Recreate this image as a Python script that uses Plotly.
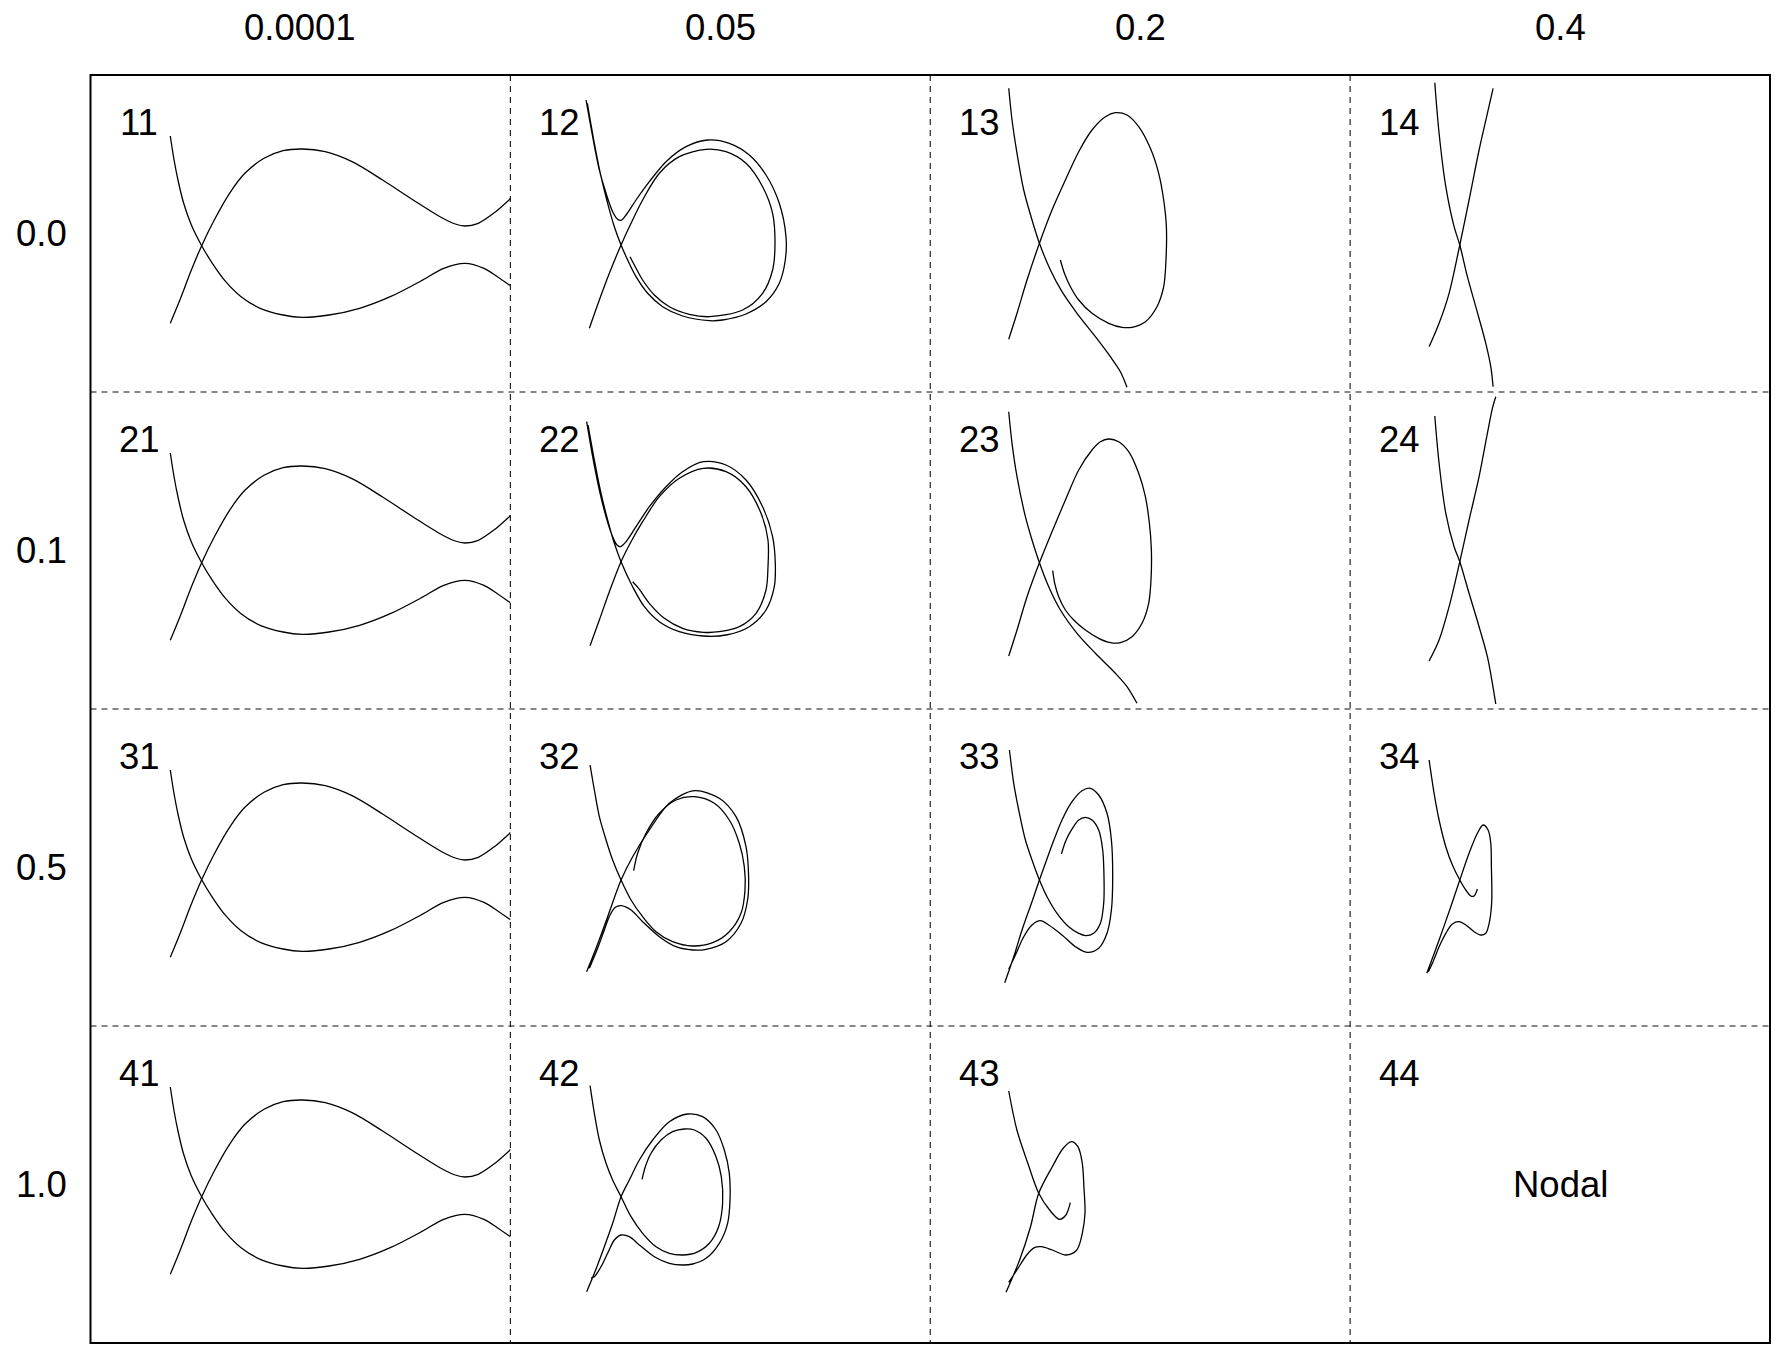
import plotly.graph_objects as go

# ---------------------------------------------------------------------------
# Labels
# ---------------------------------------------------------------------------
col_labels = ["0.0001", "0.05", "0.2", "0.4"]
row_labels = ["0.0", "0.1", "0.5", "1.0"]
panel_ids = [["11", "12", "13", "14"],
             ["21", "22", "23", "24"],
             ["31", "32", "33", "34"],
             ["41", "42", "43", "44"]]
empty_panel_text = "Nodal"

# ---------------------------------------------------------------------------
# Trajectories, in panel units (each panel spans x 0..42, y 0..31.7)
# ---------------------------------------------------------------------------
# column 1 (same for every row)
fish_a_x = [7.98, 8.36, 8.75, 9.32, 10.09, 11.12, 12.19, 13.53, 15.06, 16.97, 19.27, 21.18,
            23.86, 26.92, 29.99, 33.05, 35.34, 37.45, 39.36, 40.7, 42.04]
fish_a_y = [25.6, 23.2, 21.2, 18.87, 16.7, 14.63, 12.87, 11.03, 9.53, 8.37, 7.7, 7.47,
            7.7, 8.37, 9.53, 11.1, 12.37, 12.87, 12.37, 11.53, 10.6]
fish_b_x = [7.98, 8.94, 10.09, 11.12, 12.38, 13.91, 15.44, 17.36, 19.27, 21.18, 23.48, 26.16,
            29.22, 32.28, 34.96, 36.49, 37.45, 38.79, 40.32, 42.04]
fish_b_y = [6.87, 9.2, 12.2, 14.63, 17.2, 19.87, 21.87, 23.37, 24.13, 24.3, 24.03, 23.03,
            21.2, 19.2, 17.53, 16.8, 16.6, 16.87, 17.87, 19.37]

# panel 12
c12_a_x = [7.57, 8.23, 8.9, 9.57, 10.23, 10.73, 11.07, 11.57, 12.57, 13.9, 15.57, 17.57, 19.73,
           21.9, 23.9, 25.57, 26.9, 27.57, 27.5, 26.9, 25.57, 23.57, 21.23, 19.9, 17.23, 15.23,
           13.73, 12.57, 11.73, 11.07, 10.4, 9.73, 9.07, 8.4, 7.7]
c12_a_y = [29.2, 25.53, 22.2, 19.87, 18.03, 17.27, 17.17, 17.7, 19.2, 21.03, 23.03, 24.53, 25.2,
           24.87, 23.7, 21.7, 18.87, 15.53, 13.2, 10.87, 9.03, 7.8, 7.2, 7.13, 7.6, 8.53,
           9.87, 11.53, 13.2, 14.7, 16.53, 18.87, 21.53, 24.87, 28.87]
c12_b_x = [7.9, 8.9, 9.9, 11.07, 12.07, 13.23, 14.9, 16.9, 19.57, 21.57, 23.57, 25.23, 26.23,
           26.47, 26.23, 25.23, 23.23, 19.9, 17.9, 15.9, 14.4, 13.23, 12.4, 11.97]
c12_b_y = [6.37, 9.2, 11.87, 14.7, 16.87, 19.2, 21.87, 23.53, 24.27, 24.03, 22.87, 20.53, 17.87,
           14.87, 12.2, 9.87, 8.2, 7.53, 7.77, 8.53, 9.7, 11.2, 12.7, 13.53]

# panel 13
c13_a_x = [7.85, 8.18, 8.68, 9.35, 10.18, 10.92, 12.02, 13.18, 14.68, 16.52, 18.02, 19.02, 19.68]
c13_a_y = [30.37, 27.2, 23.87, 20.2, 17.2, 14.87, 12.2, 10.03, 7.87, 5.53, 3.53, 2.03, 0.47]
c13_b_x = [7.85, 8.68, 9.68, 10.92, 12.18, 13.52, 14.85, 16.18, 17.52, 18.52, 19.68, 20.85,
           22.02, 22.85, 23.35, 23.62, 23.58, 23.35, 22.68, 21.52, 20.18, 19.18, 17.85, 16.18,
           14.85, 14.02, 13.42, 13.02]
c13_b_y = [5.27, 7.87, 11.2, 14.87, 18.2, 21.2, 24.03, 26.2, 27.53, 27.93, 27.7, 26.53,
           24.37, 21.87, 19.2, 16.53, 13.2, 10.53, 8.53, 7.03, 6.47, 6.47, 6.87, 7.87,
           9.2, 10.53, 11.87, 13.2]

# panel 14
c14_a_x = [8.47, 8.9, 9.57, 10.4, 10.97, 11.73, 12.57, 13.57, 14.07, 14.3]
c14_a_y = [30.93, 25.87, 20.53, 16.53, 14.7, 11.53, 8.53, 4.87, 2.53, 0.53]
c14_b_x = [7.9, 8.9, 9.9, 10.97, 11.9, 12.9, 13.73, 14.3]
c14_b_y = [4.53, 6.87, 9.87, 14.7, 19.2, 24.2, 27.87, 30.37]

# panel 22
c22_a_x = [7.63, 8.23, 8.9, 9.57, 10.23, 10.67, 11.0, 11.57, 12.57, 13.9, 15.57, 17.23, 19.3,
           21.57, 23.57, 25.23, 26.23, 26.5, 26.4, 25.57, 23.9, 21.57, 19.3, 16.9, 14.9, 13.4,
           12.23, 11.07, 10.4, 9.73, 9.07, 8.4, 7.77]
c22_a_y = [28.73, 25.23, 21.9, 19.23, 17.23, 16.4, 16.23, 16.73, 18.23, 20.23, 22.23, 23.73, 24.73,
           24.4, 22.9, 20.23, 17.23, 14.57, 12.23, 9.9, 8.23, 7.4, 7.3, 7.73, 8.73, 10.23,
           12.23, 14.73, 16.57, 18.9, 21.57, 24.9, 28.4]
c22_b_x = [7.97, 8.9, 9.9, 11.07, 12.07, 13.23, 14.9, 16.9, 19.3, 21.57, 23.57, 25.07, 25.77,
           25.77, 25.57, 24.57, 22.9, 20.9, 19.3, 17.23, 15.4, 13.9, 12.83, 12.23]
c22_b_y = [6.33, 8.9, 11.73, 14.73, 16.73, 18.73, 21.23, 23.07, 24.07, 23.73, 22.23, 19.57, 16.9,
           14.23, 11.9, 9.57, 8.23, 7.73, 7.67, 8.07, 9.07, 10.57, 12.07, 12.73]

# panel 23
c23_a_x = [7.85, 8.18, 8.68, 9.52, 10.18, 10.92, 11.85, 13.02, 14.68, 16.52, 18.52, 19.68, 20.68]
c23_a_y = [29.73, 26.57, 23.23, 19.23, 16.9, 14.63, 12.23, 9.9, 7.57, 5.57, 3.57, 2.23, 0.57]
c23_b_x = [7.85, 8.68, 9.68, 10.92, 12.18, 13.52, 14.85, 16.18, 17.02, 17.85, 18.85, 19.85,
           20.85, 21.52, 21.92, 22.12, 22.08, 21.85, 21.18, 20.18, 19.02, 18.02, 16.85, 15.52,
           14.35, 13.52, 12.85, 12.45, 12.25]
c23_b_y = [5.3, 7.9, 11.23, 14.63, 17.73, 20.9, 23.9, 25.9, 26.73, 27.0, 26.73, 25.73,
           23.57, 21.23, 18.57, 15.9, 12.9, 10.57, 8.57, 7.23, 6.63, 6.63, 7.07, 7.9,
           8.9, 9.9, 11.23, 12.57, 13.83]

# panel 24
c24_a_x = [8.47, 8.9, 9.57, 10.4, 10.97, 11.9, 12.9, 13.73, 14.23, 14.57]
c24_a_y = [29.3, 24.57, 19.57, 16.23, 14.73, 11.57, 8.23, 5.23, 2.57, 0.5]
c24_b_x = [7.9, 8.9, 9.9, 10.97, 11.9, 12.9, 13.73, 14.23, 14.57]
c24_b_y = [4.8, 6.9, 10.23, 14.73, 18.9, 23.23, 27.57, 30.07, 31.23]

# panel 32
c32_a_x = [7.97, 8.4, 8.9, 9.57, 10.23, 11.07, 12.07, 13.23, 14.57, 16.23, 18.23, 20.23, 21.9,
           23.07, 23.47, 23.4, 22.9, 21.9, 20.4, 18.4, 16.57, 14.9, 13.57, 12.73, 12.33]
c32_a_y = [26.1, 23.6, 20.93, 18.6, 16.6, 14.6, 12.6, 10.93, 9.43, 8.43, 8.0, 8.33, 9.43,
           11.27, 13.6, 15.93, 18.27, 20.6, 22.27, 22.93, 22.6, 21.27, 19.27, 17.27, 15.53]
c32_b_x = [7.63, 8.57, 9.73, 11.07, 12.23, 13.9, 15.9, 18.4, 20.9, 22.57, 23.57, 23.83, 23.73,
           23.07, 21.57, 19.57, 18.23, 16.57, 14.9, 13.23, 12.07, 11.07, 10.5, 9.97, 9.4, 8.73, 7.9]
c32_b_y = [5.43, 7.77, 10.93, 14.6, 16.93, 19.6, 22.27, 23.53, 22.77, 20.93, 17.93, 14.93, 12.6,
           10.27, 8.43, 7.67, 7.6, 7.93, 8.93, 10.43, 11.6, 12.03, 11.87, 11.1, 9.6, 7.77, 5.77]

# panel 33
c33_a_x = [7.92, 8.35, 8.85, 9.52, 10.18, 10.92, 11.68, 12.68, 13.85, 14.85, 15.52, 16.35, 17.02,
           17.35, 17.38, 17.25, 16.85, 16.18, 15.52, 14.85, 14.02, 13.52, 13.12]
c33_a_y = [27.6, 24.27, 21.6, 18.6, 16.6, 14.6, 12.93, 11.27, 9.93, 9.27, 9.03, 9.27, 10.27,
           12.27, 14.93, 17.6, 19.6, 20.6, 20.87, 20.6, 19.43, 18.43, 17.2]
c33_b_x = [7.85, 8.52, 9.35, 10.18, 11.02, 11.85, 13.18, 14.52, 15.68, 16.85, 17.68, 18.12,
           18.25, 18.12, 17.68, 16.85, 16.02, 15.18, 14.18, 13.18, 12.18, 11.52, 10.92, 10.18,
           9.18, 8.35, 7.45]
c33_b_y = [5.67, 7.1, 8.93, 10.1, 10.53, 10.1, 9.1, 7.93, 7.37, 7.77, 9.27, 11.6,
           14.93, 18.6, 21.27, 23.1, 23.77, 23.53, 22.43, 20.6, 18.1, 16.27, 14.6, 12.43,
           9.6, 6.93, 4.33]

# panel 34
c34_a_x = [7.9, 8.4, 8.9, 9.57, 10.23, 10.97, 11.57, 12.07, 12.4, 12.73]
c34_a_y = [26.6, 23.27, 20.6, 17.93, 16.1, 14.6, 13.6, 13.0, 13.0, 13.7]
c34_b_x = [7.67, 8.9, 10.07, 10.97, 11.9, 12.73, 13.3, 13.8, 14.07, 14.13, 14.17, 13.97, 13.57,
           13.07, 12.4, 11.57, 10.9, 10.23, 9.57, 8.9, 8.23, 7.83]
c34_b_y = [5.27, 8.6, 11.93, 14.6, 17.27, 19.27, 20.1, 19.6, 18.27, 15.93, 12.6, 10.6, 9.27,
           9.1, 9.43, 10.1, 10.43, 10.2, 9.27, 7.93, 6.27, 5.43]

# panel 42
c42_a_x = [7.97, 8.4, 8.9, 9.57, 10.23, 11.07, 12.07, 13.23, 14.57, 15.9, 17.23, 18.57, 19.9,
           20.83, 21.23, 21.1, 20.57, 19.57, 18.4, 17.4, 16.23, 15.07, 14.07, 13.5, 13.17]
c42_a_y = [25.73, 22.97, 20.3, 17.97, 16.3, 14.63, 12.63, 10.97, 9.63, 8.97, 8.8, 9.03, 9.97,
           11.63, 13.97, 16.63, 18.63, 20.47, 21.3, 21.4, 21.13, 20.3, 18.97, 17.63, 16.37]
c42_b_x = [7.63, 8.4, 9.4, 10.23, 11.07, 11.9, 12.9, 14.23, 15.9, 17.73, 19.23, 20.57, 21.4,
           21.9, 21.97, 21.73, 20.9, 19.57, 18.23, 17.23, 15.9, 14.4, 12.9, 11.9, 11.07, 10.4,
           9.73, 9.07, 8.4, 8.07]
c42_b_y = [5.13, 6.97, 9.63, 11.97, 14.63, 16.3, 18.3, 20.3, 22.13, 22.9, 22.63, 21.3, 19.3,
           16.97, 14.3, 11.97, 9.97, 8.47, 7.9, 7.8, 7.97, 8.63, 9.8, 10.63, 10.8, 10.3,
           8.97, 7.63, 6.63, 6.5]

# panel 43
c43_a_x = [7.85, 8.67, 9.76, 10.85, 11.94, 12.92, 13.57, 14.01]
c43_a_y = [25.2, 21.3, 17.97, 14.97, 13.3, 12.37, 12.8, 14.03]
c43_b_x = [7.58, 8.94, 10.03, 10.85, 12.21, 13.3, 14.12, 14.77, 15.21, 15.37, 15.48, 15.21,
           14.66, 13.57, 12.21, 11.12, 10.41, 9.65, 8.67, 7.85]
c43_b_y = [5.07, 8.3, 11.63, 14.97, 17.63, 19.47, 20.13, 19.63, 17.97, 15.63, 12.97, 10.97,
           9.3, 8.8, 9.3, 9.63, 9.53, 8.8, 7.3, 6.07]

panel_curves = {
    (0, 0): [(fish_a_x, fish_a_y), (fish_b_x, fish_b_y)],
    (0, 1): [(c12_a_x, c12_a_y), (c12_b_x, c12_b_y)],
    (0, 2): [(c13_a_x, c13_a_y), (c13_b_x, c13_b_y)],
    (0, 3): [(c14_a_x, c14_a_y), (c14_b_x, c14_b_y)],
    (1, 0): [(fish_a_x, fish_a_y), (fish_b_x, fish_b_y)],
    (1, 1): [(c22_a_x, c22_a_y), (c22_b_x, c22_b_y)],
    (1, 2): [(c23_a_x, c23_a_y), (c23_b_x, c23_b_y)],
    (1, 3): [(c24_a_x, c24_a_y), (c24_b_x, c24_b_y)],
    (2, 0): [(fish_a_x, fish_a_y), (fish_b_x, fish_b_y)],
    (2, 1): [(c32_a_x, c32_a_y), (c32_b_x, c32_b_y)],
    (2, 2): [(c33_a_x, c33_a_y), (c33_b_x, c33_b_y)],
    (2, 3): [(c34_a_x, c34_a_y), (c34_b_x, c34_b_y)],
    (3, 0): [(fish_a_x, fish_a_y), (fish_b_x, fish_b_y)],
    (3, 1): [(c42_a_x, c42_a_y), (c42_b_x, c42_b_y)],
    (3, 2): [(c43_a_x, c43_a_y), (c43_b_x, c43_b_y)],
    (3, 3): [],
}

# ---------------------------------------------------------------------------
# Page geometry
# ---------------------------------------------------------------------------
W, H = 1775, 1352
LEFT, RIGHT, TOP, BOTTOM = 90.5, 1770.0, 75.0, 1343.0
NCOL, NROW = 4, 4
CW = (RIGHT - LEFT) / NCOL
RH = (BOTTOM - TOP) / NROW
X_RANGE = [0, 42]
Y_RANGE = [0, 31.7]
FONT = "Liberation Sans, Arial, Helvetica, sans-serif"
FONT_SIZE = 36.5


def px(x):
    return x / W


def py(y):
    return 1 - y / H


fig = go.Figure()
layout_axes = {}
annotations = []

for i in range(NROW):
    for j in range(NCOL):
        k = i * NCOL + j + 1
        xname = "x" if k == 1 else f"x{k}"
        yname = "y" if k == 1 else f"y{k}"
        xkey = "xaxis" if k == 1 else f"xaxis{k}"
        ykey = "yaxis" if k == 1 else f"yaxis{k}"
        layout_axes[xkey] = dict(
            domain=[px(LEFT + j * CW), px(LEFT + (j + 1) * CW)],
            range=X_RANGE, visible=False, fixedrange=True, anchor=yname,
        )
        layout_axes[ykey] = dict(
            domain=[py(TOP + (i + 1) * RH), py(TOP + i * RH)],
            range=Y_RANGE, visible=False, fixedrange=True, anchor=xname,
        )
        for cx, cy in panel_curves[(i, j)]:
            fig.add_trace(go.Scatter(
                x=cx, y=cy, xaxis=xname, yaxis=yname, mode="lines",
                line=dict(color="black", width=1.3, shape="spline", smoothing=0.9),
                hoverinfo="skip", showlegend=False,
            ))
        annotations.append(dict(
            x=4.9, y=Y_RANGE[1] - 4.75, xref=xname, yref=yname,
            text=panel_ids[i][j], showarrow=False, xanchor="center", yanchor="middle",
            font=dict(family=FONT, size=FONT_SIZE, color="black"),
        ))
        if not panel_curves[(i, j)]:
            annotations.append(dict(
                x=(X_RANGE[0] + X_RANGE[1]) / 2, y=(Y_RANGE[0] + Y_RANGE[1]) / 2,
                xref=xname, yref=yname, text=empty_panel_text, showarrow=False,
                xanchor="center", yanchor="middle",
                font=dict(family=FONT, size=FONT_SIZE, color="black"),
            ))

# column headers
for j, lab in enumerate(col_labels):
    annotations.append(dict(
        x=px(LEFT + (j + 0.5) * CW), y=py(27.5), xref="paper", yref="paper",
        text=lab, showarrow=False, xanchor="center", yanchor="middle",
        font=dict(family=FONT, size=FONT_SIZE, color="black"),
    ))

# row headers
for i, lab in enumerate(row_labels):
    annotations.append(dict(
        x=px(41.5), y=py(TOP + (i + 0.5) * RH), xref="paper", yref="paper",
        text=lab, showarrow=False, xanchor="center", yanchor="middle",
        font=dict(family=FONT, size=FONT_SIZE, color="black"),
    ))

# grid dividers and outer frame
shapes = []
dash_style = dict(color="#111111", width=1.1, dash="6px,5px")
for j in range(1, NCOL):
    xx = px(LEFT + j * CW)
    shapes.append(dict(type="line", xref="paper", yref="paper",
                       x0=xx, x1=xx, y0=py(TOP), y1=py(BOTTOM), line=dash_style))
for i in range(1, NROW):
    yy = py(TOP + i * RH)
    shapes.append(dict(type="line", xref="paper", yref="paper",
                       x0=px(LEFT), x1=px(RIGHT), y0=yy, y1=yy, line=dash_style))
shapes.append(dict(type="rect", xref="paper", yref="paper",
                   x0=px(LEFT), x1=px(RIGHT), y0=py(BOTTOM), y1=py(TOP),
                   line=dict(color="black", width=2), fillcolor="rgba(0,0,0,0)"))

fig.update_layout(
    width=W, height=H, autosize=False,
    margin=dict(l=0, r=0, t=0, b=0, pad=0),
    paper_bgcolor="white", plot_bgcolor="white",
    showlegend=False, annotations=annotations, shapes=shapes,
    **layout_axes,
)

fig.write_html("out.html")
